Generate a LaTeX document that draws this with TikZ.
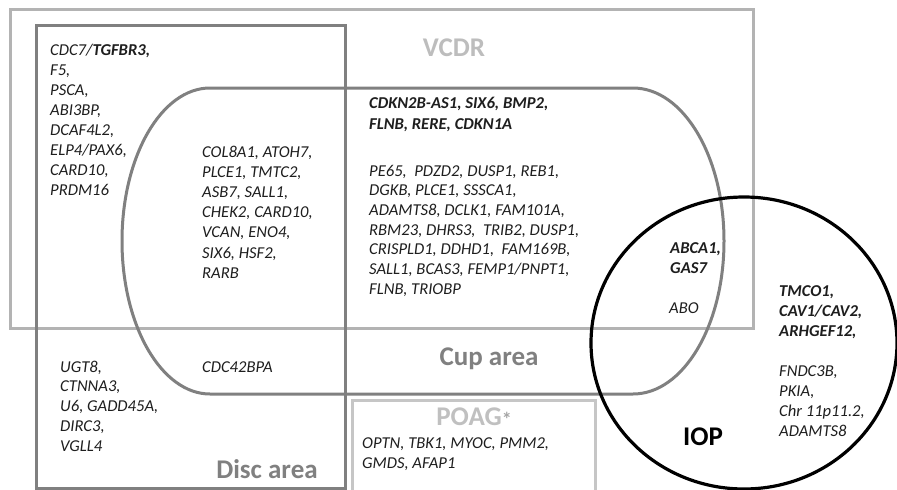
\documentclass[tikz,border=0pt]{standalone}
\usepackage{fontspec}
\setmainfont{Carlito}
\definecolor{vcdrc}{HTML}{B3B3B3}
\definecolor{vcdrtxt}{HTML}{BDBDBD}
\definecolor{discc}{HTML}{808080}
\definecolor{poagc}{HTML}{C6C6C6}
\definecolor{poagtxt}{HTML}{C0C0C0}
\definecolor{astc}{HTML}{A6A6A6}
\definecolor{genec}{HTML}{1E1E1E}
\begin{document}
\begin{tikzpicture}[x=1pt,y=-1pt,
  gene/.style={font=\fontsize{16.6}{20}\selectfont\itshape, text=genec, inner sep=0pt, align=left, anchor=base west},
  big/.style={font=\fontsize{27}{30}\selectfont\bfseries, inner sep=0pt, anchor=base},
  frame/.style={line width=3pt}]
\useasboundingbox (0,0) rectangle (897,490);
\fill[white] (0,0) rectangle (897,490);
% VCDR rectangle
\draw[frame, vcdrc] (10,9) rectangle (753,328);
% Disc area rectangle
\draw[frame, discc] (36,25) rectangle (345,488);
% POAG box
\draw[frame, poagc] (352,492) -- (352,400) -- (595,400) -- (595,492);
% Cup area shape
\draw[frame, discc] (210,88) -- (633,88)
  arc[start angle=-90, end angle=90, x radius=91, y radius=153]
  -- (210,394)
  arc[start angle=90, end angle=270, x radius=88, y radius=153] -- cycle;
% IOP
\draw[line width=3.2pt, black] (744,343) ellipse [x radius=153, y radius=146];

% labels
\node[big, text=vcdrtxt] (lvcdr) at (454,56) {VCDR};
\node[big, text=discc] (lcup) at (489,365) {Cup area};
\node[big, text=discc] (ldisc) at (267,478) {Disc area};
\node[big, text=black] (liop) at (703,445) {IOP};
\node[big, text=poagtxt] (lpoag) at (474,425) {POAG{\fontsize{20}{20}\selectfont\color{astc}\raisebox{-1pt}{*}}};

% gene lists (anchor = baseline of the last line)
\node[gene] (g1) at (50,195.5) {CDC7/\textbf{TGFBR3,}\\F5,\\PSCA,\\ABI3BP,\\DCAF4L2,\\ELP4/PAX6,\\CARD10,\\PRDM16};
\node[gene, font=\fontsize{16.6}{20.2}\selectfont\itshape] (g2) at (202,278.2) {COL8A1, ATOH7,\\PLCE1, TMTC2,\\ASB7, SALL1,\\CHEK2, CARD10,\\VCAN, ENO4,\\SIX6, HSF2,\\RARB};
\node[gene, font=\fontsize{16.6}{21}\selectfont\itshape\bfseries] (g3) at (369,129.5) {CDKN2B-AS1, SIX6, BMP2,\\FLNB, RERE, CDKN1A};
\node[gene, font=\fontsize{16.6}{19.7}\selectfont\itshape] (g4) at (369,294.2) {PE65,\ \ PDZD2, DUSP1, REB1,\\DGKB, PLCE1, SSSCA1,\\ADAMTS8, DCLK1, FAM101A,\\RBM23, DHRS3,\ \ TRIB2, DUSP1,\\CRISPLD1, DDHD1,\ \ FAM169B,\\SALL1, BCAS3, FEMP1/PNPT1,\\FLNB, TRIOBP};
\node[gene, font=\fontsize{16.6}{20}\selectfont\itshape\bfseries] (g5) at (670,273) {ABCA1,\\GAS7};
\node[gene] (g6) at (669,313) {ABO};
\node[gene, font=\fontsize{16.6}{20}\selectfont\itshape\bfseries] (g7) at (779,336) {TMCO1,\\CAV1/CAV2,\\ARHGEF12,};
\node[gene] (g8) at (779,436) {FNDC3B,\\PKIA,\\Chr 11p11.2,\\ADAMTS8};
\node[gene, font=\fontsize{16.6}{19.8}\selectfont\itshape] (g9) at (60,451.2) {UGT8,\\CTNNA3,\\U6, GADD45A,\\DIRC3,\\VGLL4};
\node[gene] (g10) at (202,372) {CDC42BPA};
\node[gene] (g11) at (362,468) {OPTN, TBK1, MYOC, PMM2,\\GMDS, AFAP1};
\end{tikzpicture}
\end{document}
